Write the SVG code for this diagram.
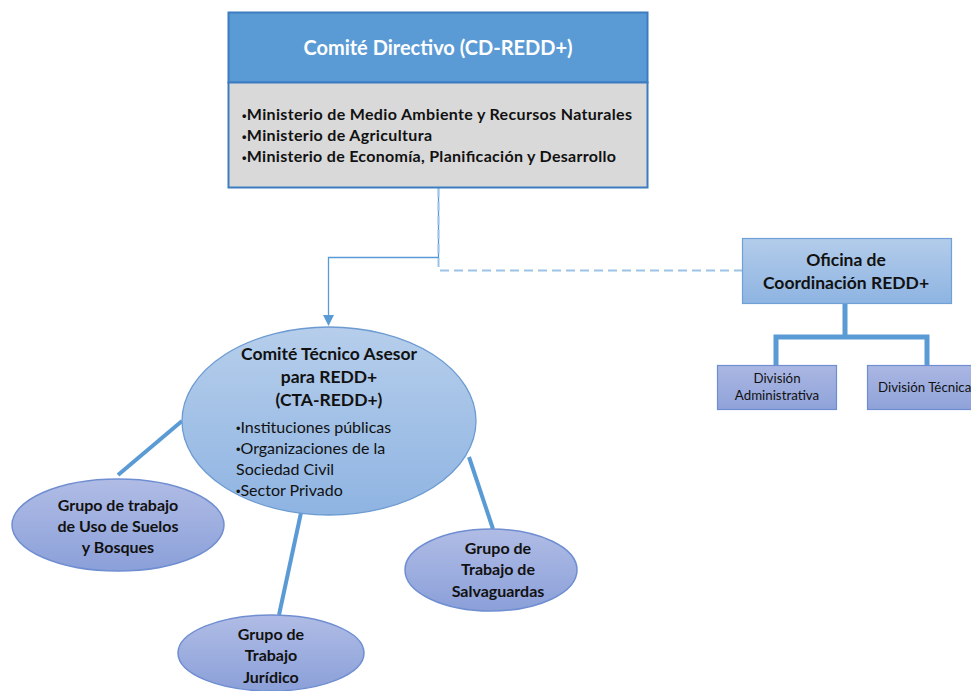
<svg xmlns="http://www.w3.org/2000/svg" width="971" height="691" viewBox="0 0 971 691">
<defs>
<style>
text{font-family:Lato,"Liberation Sans",sans-serif;fill:#111}
.b{font-weight:bold}
.c{text-anchor:middle}
.t{font-size:16px}
.g{font-size:16px}
.s{font-size:13.3px}
.bu{font-family:"Liberation Sans",sans-serif;font-size:0.8em}
.link{stroke:#5B9BD5;stroke-width:4;fill:none}
.tree{stroke:#5B9BD5;stroke-width:5;fill:none}
.grp{fill:url(#gG);stroke:#6F8ED1;stroke-width:1.5}
.div{fill:url(#gD);stroke:#6F8ED1;stroke-width:1.2}
</style>
<linearGradient id="gC" x1="0" y1="0" x2="0" y2="1"><stop offset="0" stop-color="#B6CEEB"/><stop offset="1" stop-color="#8FB4E2"/></linearGradient>
<linearGradient id="gO" x1="0" y1="0" x2="0" y2="1"><stop offset="0" stop-color="#B3CCEA"/><stop offset="1" stop-color="#8EB4E2"/></linearGradient>
<linearGradient id="gG" x1="0" y1="0" x2="0" y2="1"><stop offset="0" stop-color="#B0BCE5"/><stop offset="1" stop-color="#8BA0D9"/></linearGradient>
<linearGradient id="gD" x1="0" y1="0" x2="0" y2="1"><stop offset="0" stop-color="#ABB7E3"/><stop offset="1" stop-color="#8FA2D9"/></linearGradient>
</defs>
<g id="connectors">
<path d="M438.5,188 V257.5 H328.5 V317" stroke="#5B9BD5" stroke-width="1.3" fill="none"/>
<path d="M323,315 L334,315 L328.5,326 Z" fill="#5B9BD5"/>
<path d="M438.5,188 V270.5 H742" stroke="#9DC3E6" stroke-width="2" stroke-dasharray="9,5" fill="none"/>
<path class="tree" d="M845,303 V337 M776,337 H927 M776,334.5 V365 M927,334.5 V365"/>
<line class="link" x1="182" y1="421" x2="118" y2="475"/>
<line class="link" x1="302" y1="508" x2="279" y2="615"/>
<line class="link" x1="469" y1="457" x2="493" y2="529"/>
</g>
<g id="cd-redd">
<rect x="228.5" y="12.5" width="419" height="70" fill="#5B9BD5" stroke="#3D7CC0" stroke-width="2"/>
<rect x="228.5" y="82.5" width="419" height="105" fill="#D9D9D9" stroke="#3D7CC0" stroke-width="2"/>
<text class="b c" x="438" y="55" font-size="20" style="fill:#fff">Comité Directivo (CD-REDD+)</text>
<text class="b t" x="242" y="120" textLength="390"><tspan class="bu">•</tspan>Ministerio de Medio Ambiente y Recursos Naturales</text>
<text class="b t" x="242" y="141" textLength="190"><tspan class="bu">•</tspan>Ministerio de Agricultura</text>
<text class="b t" x="242" y="162" textLength="374"><tspan class="bu">•</tspan>Ministerio de Economía, Planificación y Desarrollo</text>
</g>
<g id="oficina">
<rect x="742.5" y="238.5" width="209" height="65" fill="url(#gO)" stroke="#6FA0D6" stroke-width="1.2"/>
<text class="b c" x="846" y="266" font-size="17.5">Oficina de</text>
<text class="b c" x="846" y="289" font-size="17.5">Coordinación REDD+</text>
</g>
<g id="div-admin">
<rect x="717.5" y="365.5" width="119" height="44" class="div"/>
<text class="c s" x="777" y="383">División</text>
<text class="c s" x="777" y="400">Administrativa</text>
</g>
<g id="div-tec">
<rect x="867.5" y="365.5" width="110" height="44" class="div"/>
<text class="s" x="878" y="392">División Técnica</text>
</g>
<g id="cta-redd">
<ellipse cx="329" cy="421" rx="147" ry="94" fill="url(#gC)" stroke="#6C9BD2" stroke-width="1.3"/>
<text class="b c" x="329" y="360" font-size="17.5">Comité Técnico Asesor</text>
<text class="b c" x="329" y="383" font-size="17.5">para REDD+</text>
<text class="b c" x="329" y="406" font-size="17.5">(CTA-REDD+)</text>
<text class="g" x="236" y="433"><tspan class="bu">•</tspan>Instituciones públicas</text>
<text class="g" x="236" y="454"><tspan class="bu">•</tspan>Organizaciones de la</text>
<text class="g" x="236" y="475">Sociedad Civil</text>
<text class="g" x="236" y="496"><tspan class="bu">•</tspan>Sector Privado</text>
</g>
<g id="grupo-suelos">
<ellipse cx="118" cy="525" rx="106" ry="46" class="grp"/>
<text class="b c g" x="118" y="511">Grupo de trabajo</text>
<text class="b c g" x="118" y="532">de Uso de Suelos</text>
<text class="b c g" x="118" y="553">y Bosques</text>
</g>
<g id="grupo-juridico">
<ellipse cx="271" cy="653" rx="93" ry="38" class="grp"/>
<text class="b c g" x="271" y="640">Grupo de</text>
<text class="b c g" x="271" y="661">Trabajo</text>
<text class="b c g" x="271" y="683">Jurídico</text>
</g>
<g id="grupo-salvaguardas">
<ellipse cx="491" cy="570" rx="86" ry="41" class="grp"/>
<text class="b c g" x="498" y="554">Grupo de</text>
<text class="b c g" x="498" y="575">Trabajo de</text>
<text class="b c g" x="498" y="597">Salvaguardas</text>
</g>
</svg>
